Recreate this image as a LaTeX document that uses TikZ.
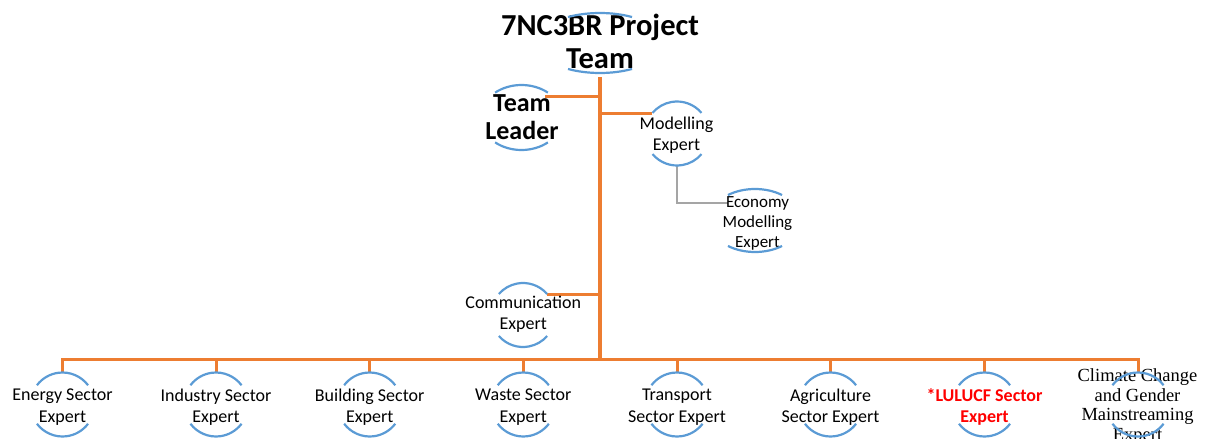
\documentclass[tikz,border=0pt]{standalone}
\usepackage{fontspec}
\setmainfont{Carlito}
\newfontfamily\climfont{Liberation Serif}
\definecolor{orgorange}{HTML}{ED7D31}
\definecolor{arcblue}{HTML}{5B9BD5}
\definecolor{linegray}{HTML}{A5A5A5}
\begin{document}
\begin{tikzpicture}[x=1pt,y=1pt,
  ring/.style={circle, minimum size=64pt, inner sep=0pt, outer sep=0pt},
  lbl/.style={align=center, inner sep=0pt, font=\fontsize{18}{21.5}\selectfont},
  ttl/.style={lbl, font=\fontsize{30.5}{33}\selectfont\bfseries},
  lead/.style={lbl, font=\fontsize{26}{27.6}\selectfont\bfseries},
  small/.style={lbl, font=\fontsize{17}{20}\selectfont},
  redlbl/.style={lbl, text=red, font=\fontsize{18}{21.5}\selectfont\bfseries},
  serlbl/.style={lbl, font=\climfont\fontsize{18.5}{19.7}\selectfont},
  org/.style={draw=orgorange, line width=3pt},
  trunk/.style={draw=orgorange, line width=3.5pt},
  graycon/.style={draw=linegray, line width=2.5pt},
  arcline/.style={draw=arcblue, line width=2.2pt}]
\useasboundingbox (0,0) rectangle (1205,-439);

% rings
\node[ring] (top) at (600,-43) {};
\node[ring] (tl) at (521.5,-117.5) {};
\node[ring] (me) at (677,-133.5) {};
\node[ring] (econ) at (755,-220.5) {};
\node[ring] (ce) at (523,-315) {};
\node[ring] (energy) at (62.5,-404.5) {};
\node[ring] (industry) at (216,-404.5) {};
\node[ring] (building) at (369.7,-404.5) {};
\node[ring] (waste) at (523.3,-404.5) {};
\node[ring] (transport) at (677,-404.5) {};
\node[ring] (agri) at (830.5,-404.5) {};
\node[ring] (lulucf) at (984.5,-404.5) {};
\node[ring] (climate) at (1138,-404.5) {};

% connectors
\coordinate (bus) at (600,-359);
\draw[trunk] ([yshift=-2pt]top.south) -- (bus);
\draw[org] (tl.42) -- (tl.42 -| top.south);
\draw[org] (me.141) -- (me.141 -| top.south);
\draw[org] (ce.41) -- (ce.41 -| top.south);
\draw[graycon] (me.south) |- (econ.147);
\draw[org] (energy.north) -- (energy.north |- bus) -- (climate.north |- bus) -- (climate.north);
\foreach \n in {industry,building,waste,transport,agri,lulucf}
  \draw[org] (\n.north) -- (\n.north |- bus);

% labels
\node[ttl] (topT) at (600,-41.5) {7NC3BR Project\\Team};
\node[lead] (tlT) at (522,-117.2) {Team\\Leader};
\node[lbl] (meT) at (676.5,-135) {Modelling\\Expert};
\node[small] (econT) at (757.5,-223) {Economy\\Modelling\\Expert};
\node[lbl] (ceT) at (523.3,-314.3) {Communication\\Expert};
\node[lbl] (energyT) at (62.5,-407) {Energy Sector\\Expert};
\node[lbl] (industryT) at (216,-407) {Industry Sector\\Expert};
\node[lbl] (buildingT) at (369.7,-407) {Building Sector\\Expert};
\node[lbl] (wasteT) at (523.3,-407) {Waste Sector\\Expert};
\node[lbl] (transportT) at (677,-407) {Transport\\Sector Expert};
\node[lbl] (agriT) at (830.5,-407) {Agriculture\\Sector Expert};
\node[redlbl] (lulucfT) at (984.5,-407) {*LULUCF Sector\\Expert};
\node[serlbl] (climateT) at (1137.5,-406.4) {Climate Change\\and Gender\\Mainstreaming\\Expert};

% ring arcs
\foreach \n/\rx/\ry/\a in {top/64/30/60, tl/41/32.5/50, me/32/32/40, econ/46/31.5/54, ce/32/32/41,
  energy/32/32/37, industry/32/32/37, building/32/32/37, waste/32/32/37, transport/32/32/37,
  agri/32/32/37, lulucf/32/32/37, climate/32/32/37} {
  \draw[arcline] ([shift={(\a:\rx pt and \ry pt)}]\n.center)
    arc[start angle=\a, end angle=180-\a, x radius=\rx pt, y radius=\ry pt];
  \draw[arcline] ([shift={(180+\a:\rx pt and \ry pt)}]\n.center)
    arc[start angle=180+\a, end angle=360-\a, x radius=\rx pt, y radius=\ry pt];
}
\end{tikzpicture}
\end{document}
